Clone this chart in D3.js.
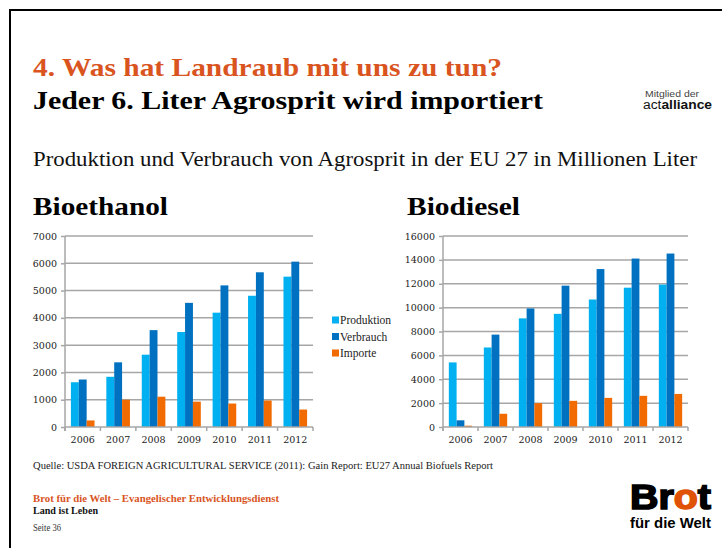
<!DOCTYPE html>
<html>
<head>
<meta charset="utf-8">
<script src="https://cdn.jsdelivr.net/npm/d3@7"></script>
<style>
  body { margin: 0; background: #fff; }
  svg { display: block; }
</style>
</head>
<body>
<div class="visHolder"></div>
<script>
// Data (Millionen Liter)
var years = ['2006', '2007', '2008', '2009', '2010', '2011', '2012'];
var seriesNames = ['Produktion', 'Verbrauch', 'Importe'];
var seriesColors = ['#00b0f0', '#0070c0', '#f26b00'];

var ethanolProduktion = [1640, 1840, 2650, 3480, 4190, 4810, 5510];
var ethanolVerbrauch  = [1740, 2370, 3550, 4550, 5190, 5670, 6060];
var ethanolImporte    = [240, 1000, 1110, 930, 860, 970, 640];
var ethanolTicks = [0, 1000, 2000, 3000, 4000, 5000, 6000, 7000];

var dieselProduktion = [5410, 6660, 9100, 9480, 10680, 11670, 11930];
var dieselVerbrauch  = [560, 7740, 9930, 11840, 13230, 14110, 14530];
var dieselImporte    = [110, 1110, 2000, 2190, 2440, 2610, 2770];
var dieselTicks = [0, 2000, 4000, 6000, 8000, 10000, 12000, 14000, 16000];

var width = 722, height = 548;
var orange = '#d9541e';
var serif = '"Liberation Serif", "DejaVu Serif", serif';
var numFont = '"DejaVu Serif", serif';
var sans = '"Liberation Sans", Arial, sans-serif';

var svg = d3.select('.visHolder').
append('svg').
attr('width', width).
attr('height', height);

// slide frame (right and bottom edges run off the picture)
svg.append('rect').
attr('x', 10).
attr('y', 10).
attr('width', 760).
attr('height', 600).
style('fill', 'none').
style('stroke', '#000').
style('stroke-width', 2);

// headings
svg.append('text').
attr('x', 33).attr('y', 76).
attr('textLength', 469).attr('lengthAdjust', 'spacingAndGlyphs').
style('font-family', serif).style('font-weight', 'bold').style('font-size', '26px').
style('fill', orange).
text('4. Was hat Landraub mit uns zu tun?');

svg.append('text').
attr('x', 33).attr('y', 109).
attr('textLength', 510).attr('lengthAdjust', 'spacingAndGlyphs').
style('font-family', serif).style('font-weight', 'bold').style('font-size', '26px').
style('fill', '#000').
text('Jeder 6. Liter Agrosprit wird importiert');

svg.append('text').
attr('x', 33).attr('y', 166).
attr('textLength', 664).attr('lengthAdjust', 'spacingAndGlyphs').
style('font-family', serif).style('font-size', '20px').
style('fill', '#111').
text('Produktion und Verbrauch von Agrosprit in der EU 27 in Millionen Liter');

// actalliance mark
svg.append('text').
attr('x', 645).attr('y', 97).
attr('textLength', 54).attr('lengthAdjust', 'spacingAndGlyphs').
style('font-family', sans).style('font-size', '9px').style('fill', '#444').
text('Mitglied der');
var act = svg.append('text').
attr('x', 643).attr('y', 109).
attr('textLength', 69).attr('lengthAdjust', 'spacingAndGlyphs').
style('font-family', sans).style('font-size', '12px').style('fill', '#111');
act.append('tspan').text('act');
act.append('tspan').style('font-weight', 'bold').text('alliance');

// one grouped bar chart
function drawChart(opts) {
  var g = svg.append('g');

  g.append('text').
  attr('x', opts.titleX).attr('y', 215).
  attr('textLength', opts.titleW).attr('lengthAdjust', 'spacingAndGlyphs').
  style('font-family', serif).style('font-weight', 'bold').style('font-size', '25px').
  text(opts.title);

  var y = d3.scaleLinear().
  domain([0, opts.max]).
  range([427, 236]);

  var x0 = d3.scaleBand().
  domain(years).
  range([opts.left, opts.right]);

  var x1 = d3.scaleBand().
  domain(seriesNames).
  range([0, x0.bandwidth()]).
  paddingOuter(0.75);

  // gridlines
  g.selectAll('line.grid').
  data(opts.ticks.slice(1)).
  enter().
  append('line').
  attr('class', 'grid').
  attr('x1', opts.left).attr('x2', opts.right).
  attr('y1', function (d) { return y(d); }).
  attr('y2', function (d) { return y(d); }).
  style('stroke', '#a6a6a6').style('stroke-width', 1.5);

  // y axis
  var yAxis = d3.axisLeft(y).
  tickValues(opts.ticks).
  tickSize(4).
  tickPadding(4).
  tickFormat(d3.format('d'));

  var yG = g.append('g').
  attr('transform', 'translate(' + opts.left + ',0)').
  call(yAxis);
  yG.select('.domain').remove();
  yG.append('line').
  attr('x1', 0).attr('x2', 0).attr('y1', y(0) + 4).attr('y2', y(opts.max)).
  style('stroke', '#a6a6a6').style('stroke-width', 1.5);
  yG.selectAll('.tick line').style('stroke', '#a6a6a6').style('stroke-width', 1.5);
  yG.selectAll('.tick text').
  style('font-family', numFont).style('font-size', '9.5px').style('fill', '#222');

  // bars
  var rows = years.map(function (yr, i) {
    return seriesNames.map(function (s, j) {
      return { year: yr, series: s, value: opts.values[j][i], color: seriesColors[j] };
    });
  });

  g.selectAll('g.year').
  data(rows).
  enter().
  append('g').
  attr('class', 'year').
  attr('transform', function (d) { return 'translate(' + x0(d[0].year) + ',0)'; }).
  selectAll('rect').
  data(function (d) { return d; }).
  enter().
  append('rect').
  attr('x', function (d) { return x1(d.series); }).
  attr('y', function (d) { return y(d.value); }).
  attr('width', x1.bandwidth()).
  attr('height', function (d) { return y(0) - y(d.value); }).
  style('fill', function (d) { return d.color; });

  // x axis
  var xG = g.append('g').
  attr('transform', 'translate(0,' + y(0) + ')');
  xG.append('line').
  attr('x1', opts.left).attr('x2', opts.right).
  style('stroke', '#a6a6a6').style('stroke-width', 1.5);
  xG.selectAll('line.tk').
  data(years.concat(['end'])).
  enter().
  append('line').
  attr('class', 'tk').
  attr('x1', function (d, i) { return i < years.length ? x0(d) : opts.right; }).
  attr('x2', function (d, i) { return i < years.length ? x0(d) : opts.right; }).
  attr('y1', 0).attr('y2', 4).
  style('stroke', '#a6a6a6').style('stroke-width', 1.5);
  xG.selectAll('text').
  data(years).
  enter().
  append('text').
  attr('x', function (d) { return x0(d) + x0.bandwidth() / 2; }).
  attr('y', 16).
  attr('text-anchor', 'middle').
  style('font-family', numFont).style('font-size', '9.5px').style('fill', '#222').
  text(function (d) { return d; });
}

drawChart({
  title: 'Bioethanol', titleX: 33, titleW: 135,
  left: 65, right: 313, max: 7000, ticks: ethanolTicks,
  values: [ethanolProduktion, ethanolVerbrauch, ethanolImporte]
});

drawChart({
  title: 'Biodiesel', titleX: 407, titleW: 113,
  left: 443, right: 688, max: 16000, ticks: dieselTicks,
  values: [dieselProduktion, dieselVerbrauch, dieselImporte]
});

// legend (between the two charts)
var legend = svg.append('g').
selectAll('g').
data(seriesNames).
enter().
append('g').
attr('transform', function (d, i) { return 'translate(332,' + (320 + i * 16.5) + ')'; });
legend.append('rect').
attr('x', 0).attr('y', -3.5).attr('width', 7).attr('height', 7).
style('fill', function (d, i) { return seriesColors[i]; });
legend.append('text').
attr('x', 8).attr('y', 4).
style('font-family', serif).style('font-size', '11.5px').style('fill', '#222').
text(function (d) { return d; });

// source and footer
svg.append('text').
attr('x', 33).attr('y', 469).
attr('textLength', 460).attr('lengthAdjust', 'spacingAndGlyphs').
style('font-family', serif).style('font-size', '10px').style('fill', '#222').
text('Quelle: USDA FOREIGN AGRICULTURAL SERVICE (2011): Gain Report: EU27 Annual Biofuels Report');

svg.append('text').
attr('x', 33).attr('y', 502).
attr('textLength', 246).attr('lengthAdjust', 'spacingAndGlyphs').
style('font-family', serif).style('font-weight', 'bold').style('font-size', '9.5px').style('fill', orange).
text('Brot für die Welt – Evangelischer Entwicklungsdienst');
svg.append('text').
attr('x', 33).attr('y', 514).
attr('textLength', 65).attr('lengthAdjust', 'spacingAndGlyphs').
style('font-family', serif).style('font-weight', 'bold').style('font-size', '9.5px').style('fill', '#111').
text('Land ist Leben');
svg.append('text').
attr('x', 33).attr('y', 531).
attr('textLength', 28).attr('lengthAdjust', 'spacingAndGlyphs').
style('font-family', serif).style('font-size', '9.5px').style('fill', '#333').
text('Seite 36');

// Brot für die Welt logo (stroke makes the heavy logo weight)
var brot = svg.append('text').
attr('x', 630).attr('y', 509).
attr('textLength', 81).attr('lengthAdjust', 'spacingAndGlyphs').
style('font-family', sans).style('font-weight', 'bold').style('font-size', '35px').
style('fill', '#000').style('stroke', '#000').style('stroke-width', 1.6);
brot.append('tspan').text('Br');
brot.append('tspan').style('fill', '#e05206').style('stroke', '#e05206').text('o');
brot.append('tspan').text('t');
svg.append('text').
attr('x', 630).attr('y', 528).
attr('textLength', 81).attr('lengthAdjust', 'spacingAndGlyphs').
style('font-family', sans).style('font-weight', 'bold').style('font-size', '15px').style('fill', '#000').
text('für die Welt');
</script>
</body>
</html>
